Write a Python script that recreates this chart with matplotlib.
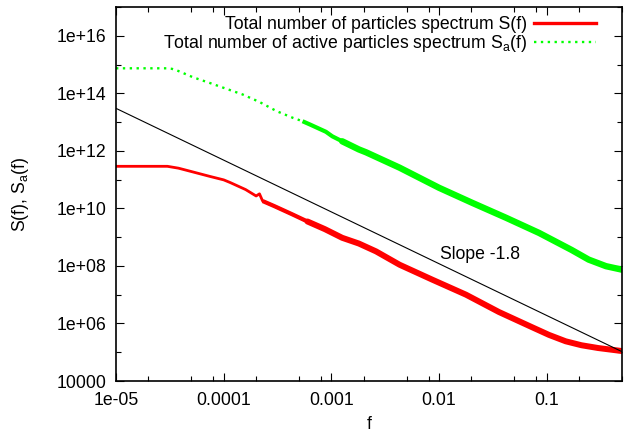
import matplotlib
matplotlib.use("Agg")
import matplotlib.pyplot as plt
from matplotlib.ticker import LogLocator, FixedLocator, NullFormatter
from matplotlib.lines import Line2D
import numpy as np

plt.rcParams['font.family'] = ['Liberation Sans', 'DejaVu Sans']
plt.rcParams['mathtext.default'] = 'regular'

# ---- data ----
f_S = [1.0e-5, 3.0e-5, 3.8e-5, 4.9e-5, 7.4e-5, 1.0e-4, 1.15e-4, 1.6e-4, 2.0e-4, 2.15e-4, 2.3e-4,
       2.95e-4, 4.3e-4, 6.0e-4, 8.7e-4, 1.26e-3, 1.8e-3, 2.6e-3, 4.3e-3, 8.7e-3, 0.0178,
       0.036, 0.072, 0.105, 0.15, 0.21, 0.30, 0.5]
S_total = [2.9e11, 2.9e11, 2.5e11, 1.95e11, 1.3e11, 9.8e10, 7.9e10, 4.5e10, 2.7e10, 3.2e10, 1.8e10,
           1.2e10, 6.3e9, 3.5e9, 1.9e9, 9.5e8, 6.0e8, 3.2e8, 1.1e8, 3.3e7, 1.0e7,
           2.5e6, 7.6e5, 4.0e5, 2.4e5, 1.75e5, 1.4e5, 1.1e5]

f_Sa = [1.0e-5, 2.95e-5, 3.3e-5, 3.7e-5, 5.2e-5, 7.4e-5, 1.05e-4, 1.5e-4, 2.15e-4, 3.1e-4, 4.4e-4,
        5.4e-4, 6.3e-4, 8.9e-4, 1.02e-3, 1.26e-3, 1.8e-3, 2.1e-3, 4.3e-3, 0.01, 0.0204,
        0.042, 0.085, 0.17, 0.245, 0.355, 0.5]
S_active = [7.4e14, 7.4e14, 7.1e14, 6.2e14, 3.6e14, 2.3e14, 1.45e14, 9.1e13, 5.0e13, 2.4e13, 1.4e13,
            1.07e13, 8.3e12, 4.6e12, 3.2e12, 2.15e12, 1.12e12, 8.9e11, 2.6e11, 5.2e10, 1.55e10,
            4.7e9, 1.4e9, 3.6e8, 1.66e8, 9.8e7, 7.4e7]

slope = -1.8
slope_amp = 3.0e4
slope_f = [1.0e-5, 0.5]

xticks = [1e-5, 1e-4, 1e-3, 1e-2, 1e-1]
xticklabels = ['1e-05', '0.0001', '0.001', '0.01', '0.1']
yticks = [1e4, 1e6, 1e8, 1e10, 1e12, 1e14, 1e16]
yticklabels = ['10000', '1e+06', '1e+08', '1e+10', '1e+12', '1e+14', '1e+16']

FS = 12.7

# ---- figure ----
fig = plt.figure(figsize=(6.28, 4.32), dpi=100)
fig.subplots_adjust(left=116/628, right=622/628, bottom=1-381/432, top=1-7/432)
ax = fig.add_subplot(111)
ax.set_xscale('log')
ax.set_yscale('log')

red = '#ff0000'
green = '#00ff00'

fS = np.array(f_S)
St = np.array(S_total)
fa = np.array(f_Sa)
Sa = np.array(S_active)

# red: thin line at low f, noisy band at higher f
ax.plot(fS, St, color=red, lw=2.0, solid_capstyle='butt', solid_joinstyle='round')
m1 = (fS >= 2.3e-4) & (fS <= 6.0e-4)
ax.plot(fS[m1], St[m1], color=red, lw=3.0, solid_capstyle='butt', solid_joinstyle='round')
m2 = fS >= 6.0e-4
ax.plot(fS[m2], St[m2], color=red, lw=4.3, solid_capstyle='round', solid_joinstyle='round')

# green: dotted at low f, dense band at higher f
md = fa <= 6.3e-4
ax.plot(fa[md], Sa[md], color=green, lw=1.7, linestyle=(0, (1, 1.9)))
mb1 = (fa >= 5.4e-4) & (fa <= 1.26e-3)
ax.plot(fa[mb1], Sa[mb1], color=green, lw=3.0, solid_capstyle='butt', solid_joinstyle='round')
mb2 = fa >= 1.26e-3
ax.plot(fa[mb2], Sa[mb2], color=green, lw=4.6, solid_capstyle='round', solid_joinstyle='round')

# slope line
sf = np.array(slope_f)
ax.plot(sf, slope_amp * sf ** slope, color='black', lw=0.8)
ax.text(0.0101, 2.5e8, 'Slope -1.8', fontsize=FS, ha='left', va='center')

# legend
h1 = Line2D([], [], color=red, lw=2.4)
h2 = Line2D([], [], color=green, lw=1.7, linestyle=(0, (1, 1.9)))
leg = ax.legend([h1, h2],
                ['Total number of particles spectrum S(f)',
                 'Total number of active particles spectrum S$_a$(f)'],
                loc='upper right', frameon=False, markerfirst=False,
                fontsize=FS, handlelength=3.5, handletextpad=0.4,
                labelspacing=0.0, borderaxespad=0.0, borderpad=0.0,
                bbox_to_anchor=(596/628, 1-16/432), bbox_transform=fig.transFigure)

ax.set_xlim(1e-5, 0.5)
ax.set_ylim(1e4, 1e17)

ax.xaxis.set_major_locator(FixedLocator(xticks))
ax.set_xticklabels(xticklabels)
ax.xaxis.set_minor_locator(LogLocator(base=10, subs=(2.0, 5.0, 8.0)))
ax.xaxis.set_minor_formatter(NullFormatter())
ax.yaxis.set_major_locator(FixedLocator(yticks))
ax.set_yticklabels(yticklabels)
ax.yaxis.set_minor_locator(FixedLocator([1e5, 1e7, 1e9, 1e11, 1e13, 1e15, 1e17]))
ax.yaxis.set_minor_formatter(NullFormatter())

ax.tick_params(which='both', direction='in', top=True, right=True, colors='black',
               labelsize=FS, width=0.8)
ax.tick_params(which='major', length=6)
ax.tick_params(which='minor', length=3.5)
ax.tick_params(axis='y', pad=7)
ax.tick_params(axis='x', pad=8)
for s in ax.spines.values():
    s.set_linewidth(1.2)

ax.set_xlabel('f', fontsize=FS, labelpad=5)
ax.set_ylabel('S(f), S$_a$(f)', fontsize=FS, labelpad=18)

fig.savefig('out.png', dpi=100)
